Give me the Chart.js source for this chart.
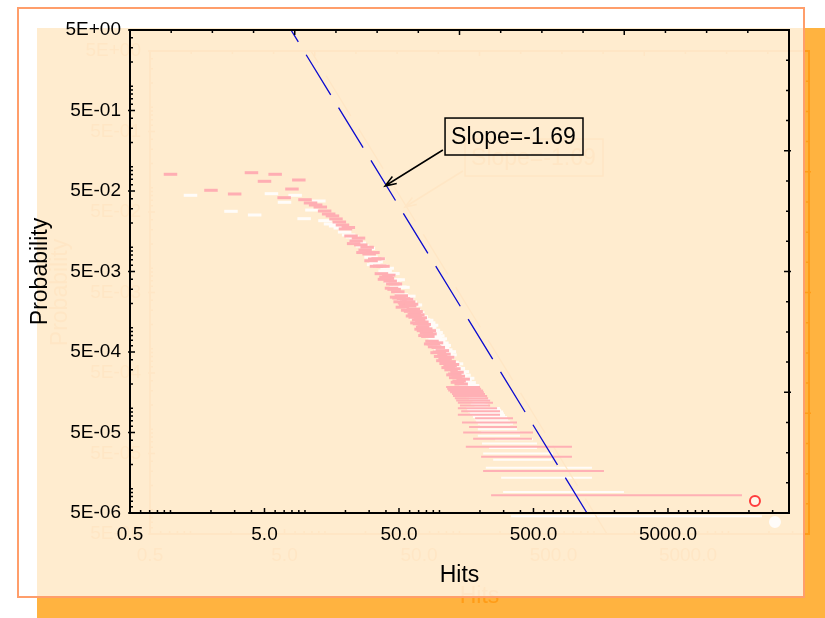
<!DOCTYPE html>
<html>
<head>
<meta charset="utf-8">
<script src="https://cdn.jsdelivr.net/npm/chart.js@4.4.1/dist/chart.umd.min.js"></script>
<style>
  body { margin: 0; background: #ffffff; }
  #shadow { position: absolute; left: 37px; top: 28px; width: 788px; height: 590px; background: #FFB340; }
  #ghost { position: absolute; left: 2px; top: 2px; }
  #panel { position: absolute; left: 17px; top: 7px; width: 788px; height: 591px; box-sizing: border-box;
           border: 2px solid #FF9E6B; background: rgba(255, 255, 255, 0.75); }
</style>
</head>
<body>
<div id="shadow"><canvas id="ghost" width="784" height="587"></canvas></div>
<div id="panel"><canvas id="main" width="784" height="587"></canvas></div>
<script>
// single hit counts (k) and their probability
const hits = [1, 2, 3, 4, 5, 6, 7, 8, 9, 10,
  11, 12, 13, 14, 15, 16, 17, 18, 19, 20,
  21, 22, 23, 24, 25, 26, 27, 28, 29, 30,
  31, 32, 33, 34, 35, 36, 37, 38, 39, 40,
  41, 42, 43, 44, 45, 46, 47, 48, 49, 50,
  51, 52, 53, 54, 55, 56, 57, 58, 59, 60,
  61, 62, 63, 64, 65, 66, 67, 68, 69, 70,
  71, 72, 73, 74, 75, 76, 77, 78, 79, 80,
  82, 84, 85, 86, 88, 90, 92, 95, 96, 98,
  100, 102, 105, 106, 108, 110, 112, 115, 116, 118,
  120, 122, 125, 126, 128, 130, 132, 135, 136, 138,
  140, 145, 150];
const prob = [0.0806, 0.0510, 0.0459, 0.0844, 0.0660, 0.0806, 0.0413, 0.0529, 0.0685, 0.0390,
  0.0355, 0.0335, 0.0316, 0.0282, 0.0259, 0.0245, 0.0225, 0.0206, 0.0189, 0.0169,
  0.0176, 0.0138, 0.0111, 0.0120, 0.0130, 0.0107, 0.0086, 0.00925, 0.0100, 0.00825,
  0.0068, 0.0086, 0.00715, 0.0058, 0.0072, 0.00585, 0.0047, 0.0058, 0.0040, 0.00427,
  0.0041, 0.0045, 0.0038, 0.0031, 0.0035, 0.0030, 0.0035, 0.0024, 0.0028, 0.00234,
  0.0021, 0.0025, 0.0018, 0.0023, 0.00203, 0.0019, 0.00226, 0.00165, 0.0021, 0.00186,
  0.0016, 0.00196, 0.0014, 0.0017, 0.00148, 0.00135, 0.00159, 0.00115, 0.00145, 0.00125,
  0.00112, 0.00133, 0.00096, 0.00118, 0.00102, 0.00092, 0.0011, 0.0008, 0.00097, 0.000861,
  0.00078, 0.00092, 0.00084, 0.00063, 0.00068, 0.000629, 0.00058, 0.00065, 0.00049, 0.00057,
  0.0005, 0.00044, 0.00052, 0.00039, 0.00047, 0.000409, 0.00036, 0.00043, 0.00032, 0.00038,
  0.000335, 0.0003, 0.00035, 0.00026, 0.00031, 0.000267, 0.00024, 0.00028, 0.00021, 0.00025,
  0.000218, 0.0002, 0.00023];

// tail: rows of equal probability (same count), from / to hits
const rowProb = [8.33e-6, 1.667e-5, 2.5e-5, 3.333e-5, 4.167e-5, 5.0e-5, 5.833e-5, 6.667e-5, 7.5e-5, 8.333e-5,
  9.167e-5, 1.0e-4, 1.083e-4, 1.167e-4, 1.25e-4, 1.333e-4, 1.417e-4, 1.5e-4, 1.583e-4, 1.667e-4,
  1.75e-4, 1.833e-4];
const rowFrom = [242, 211, 204, 157, 178, 150, 166, 147, 184, 137,
  145, 137, 142, 137, 133, 130, 126, 124, 120, 116,
  114, 112];
const rowTo = [17750, 1671, 966, 966, 487, 496, 377, 377, 352, 282,
  282, 268, 238, 250, 238, 230, 226, 218, 214, 211,
  204, 200];

const outlierHits = [22170];
const outlierProb = [7.05e-6];

const fitHits = [7.87, 1250];
const fitProb = [5, 5e-6];

const xTickValues = [0.5, 5, 50, 500, 5000];
const xTickLabels = ['0.5', '5.0', '50.0', '500.0', '5000.0'];
const yTickValues = [5e-6, 5e-5, 5e-4, 5e-3, 5e-2, 5e-1, 5];
const yTickLabels = ['5E-06', '5E-05', '5E-04', '5E-03', '5E-02', '5E-01', '5E+00'];

const noteText = 'Slope=-1.69';
const noteBoxHits = [110, 1167];
const noteBoxProb = [0.403, 0.140];
const arrowHits = [106, 39.35];
const arrowProb = [0.1615, 0.0577];

const FONT = 'Arial, "Liberation Sans", sans-serif';

const ink = { text: '#000000', mark: '#FFAEB3', row: '#FFB0B5', fit: '#0A0AD0', circle: '#FF3C3C', circleFill: 'rgba(255,255,255,0.55)' };
const ghostInk = { text: '#FF9C18', mark: '#FFF3E6', row: '#FFF3E6', fit: '#FF9C18', circle: '#FFF3E6', circleFill: '#FFF3E6' };

// minor / major tick values of a log axis
function logMarks(min, max) {
  const out = [];
  for (let e = Math.floor(Math.log10(min)); e <= Math.ceil(Math.log10(max)); e++) {
    for (let k = 1; k <= 9; k++) {
      const v = k * Math.pow(10, e);
      if (v >= min * 0.999 && v <= max * 1.001) out.push([v, k === 5]);
    }
  }
  return out;
}

const decor = {
  id: 'decor',
  afterDatasetsDraw(chart, args, o) {
    const { ctx, chartArea: a, scales: { x, y } } = chart;
    ctx.save();
    ctx.strokeStyle = o.color;
    ctx.fillStyle = o.color;
    ctx.lineWidth = 1.5;
    ctx.beginPath();
    logMarks(x.min, x.max).forEach(([v, big]) => {
      const px = x.getPixelForValue(v);
      ctx.moveTo(px, a.bottom);
      ctx.lineTo(px, a.bottom - (big ? 5 : 3));
    });
    logMarks(y.min, y.max).forEach(([v, big]) => {
      const py = y.getPixelForValue(v);
      ctx.moveTo(a.left - (big ? 2 : 0), py);
      ctx.lineTo(a.left + (big ? 5 : 3), py);
    });
    for (let i = 1; i < 16; i++) {
      const big = i % 4 === 0;
      const px = a.left + (a.right - a.left) * i / 16;
      ctx.moveTo(px, a.top);
      ctx.lineTo(px, a.top + (big ? 5 : 3));
      const py = a.top + (a.bottom - a.top) * i / 16;
      ctx.moveTo(a.right + (big ? 2 : 0), py);
      ctx.lineTo(a.right - (big ? 5 : 3), py);
    }
    ctx.stroke();
    ctx.lineWidth = 2;
    ctx.strokeRect(a.left, a.top, a.right - a.left, a.bottom - a.top);

    // slope note with arrow
    const bx1 = x.getPixelForValue(noteBoxHits[0]), bx2 = x.getPixelForValue(noteBoxHits[1]);
    const by1 = y.getPixelForValue(noteBoxProb[0]), by2 = y.getPixelForValue(noteBoxProb[1]);
    ctx.lineWidth = 1.5;
    ctx.strokeRect(bx1, by1, bx2 - bx1, by2 - by1);
    ctx.font = '23px ' + FONT;
    ctx.textBaseline = 'middle';
    ctx.textAlign = 'left';
    ctx.fillText(noteText, bx1 + 6, (by1 + by2) / 2 + 1);
    const tx = x.getPixelForValue(arrowHits[0]), ty = y.getPixelForValue(arrowProb[0]);
    const hx = x.getPixelForValue(arrowHits[1]), hy = y.getPixelForValue(arrowProb[1]);
    const ang = Math.atan2(hy - ty, hx - tx);
    ctx.beginPath();
    ctx.moveTo(tx, ty);
    ctx.lineTo(hx, hy);
    ctx.moveTo(hx - 12 * Math.cos(ang - 0.35), hy - 12 * Math.sin(ang - 0.35));
    ctx.lineTo(hx, hy);
    ctx.lineTo(hx - 12 * Math.cos(ang + 0.35), hy - 12 * Math.sin(ang + 0.35));
    ctx.stroke();
    ctx.restore();
  }
};

function rowPoints() {
  const pts = [];
  rowProb.forEach((p, i) => {
    pts.push({ x: rowFrom[i], y: p }, { x: rowTo[i], y: p }, { x: rowTo[i], y: null });
  });
  return pts;
}

function makeChart(id, pal) {
  return new Chart(document.getElementById(id), {
    type: 'scatter',
    data: {
      datasets: [
        {
          type: 'line',
          data: fitHits.map((h, i) => ({ x: h, y: fitProb[i] })),
          borderColor: pal.fit, borderWidth: 1.3, borderDash: [47, 15], borderDashOffset: 33,
          pointRadius: 0, fill: false
        },
        {
          data: outlierHits.map((h, i) => ({ x: h, y: outlierProb[i] })),
          pointStyle: 'circle', pointRadius: 5, pointBorderWidth: 2,
          pointBorderColor: pal.circle, pointBackgroundColor: pal.circleFill
        },
        {
          data: hits.map((h, i) => ({ x: h, y: prob[i] })),
          pointStyle: 'line', pointRadius: 6.75, pointBorderWidth: 3,
          pointBorderColor: pal.mark, pointBackgroundColor: pal.mark
        },
        {
          type: 'line',
          data: rowPoints(),
          borderColor: pal.row, borderWidth: 2, borderCapStyle: 'butt',
          pointRadius: 0, spanGaps: false, fill: false
        }
      ]
    },
    options: {
      responsive: false,
      animation: false,
      devicePixelRatio: 1,
      layout: { padding: { top: 21, right: 14, left: 0, bottom: 0 } },
      plugins: {
        legend: { display: false },
        tooltip: { enabled: false },
        decor: { color: pal.text }
      },
      scales: {
        x: {
          type: 'logarithmic', position: 'bottom', min: 0.5, max: 39700,
          grid: { display: false, drawTicks: false, tickLength: 0 },
          border: { display: false },
          afterBuildTicks: s => { s.ticks = xTickValues.map(v => ({ value: v })); },
          afterFit: s => { s.height = 83; },
          ticks: {
            autoSkip: false, maxRotation: 0, minRotation: 0, padding: 10, color: pal.text,
            font: { family: FONT, size: 19 },
            callback: (v, i) => xTickLabels[i]
          },
          title: { display: true, text: 'Hits', color: pal.text, font: { family: FONT, size: 23 }, padding: { top: 0, bottom: 7 } }
        },
        y: {
          type: 'logarithmic', position: 'left', min: 5e-6, max: 5,
          grid: { display: false, drawTicks: false, tickLength: 0 },
          border: { display: false },
          afterBuildTicks: s => { s.ticks = yTickValues.map(v => ({ value: v })); },
          afterFit: s => { s.width = 111; },
          ticks: {
            autoSkip: false, padding: 9, color: pal.text,
            font: { family: FONT, size: 19 },
            callback: (v, i) => yTickLabels[i]
          },
          title: { display: true, text: 'Probability', color: pal.text, font: { family: FONT, size: 23 }, padding: { top: 8, bottom: 0 } }
        }
      }
    },
    plugins: [decor]
  });
}

makeChart('ghost', ghostInk);
makeChart('main', ink);
</script>
</body>
</html>
